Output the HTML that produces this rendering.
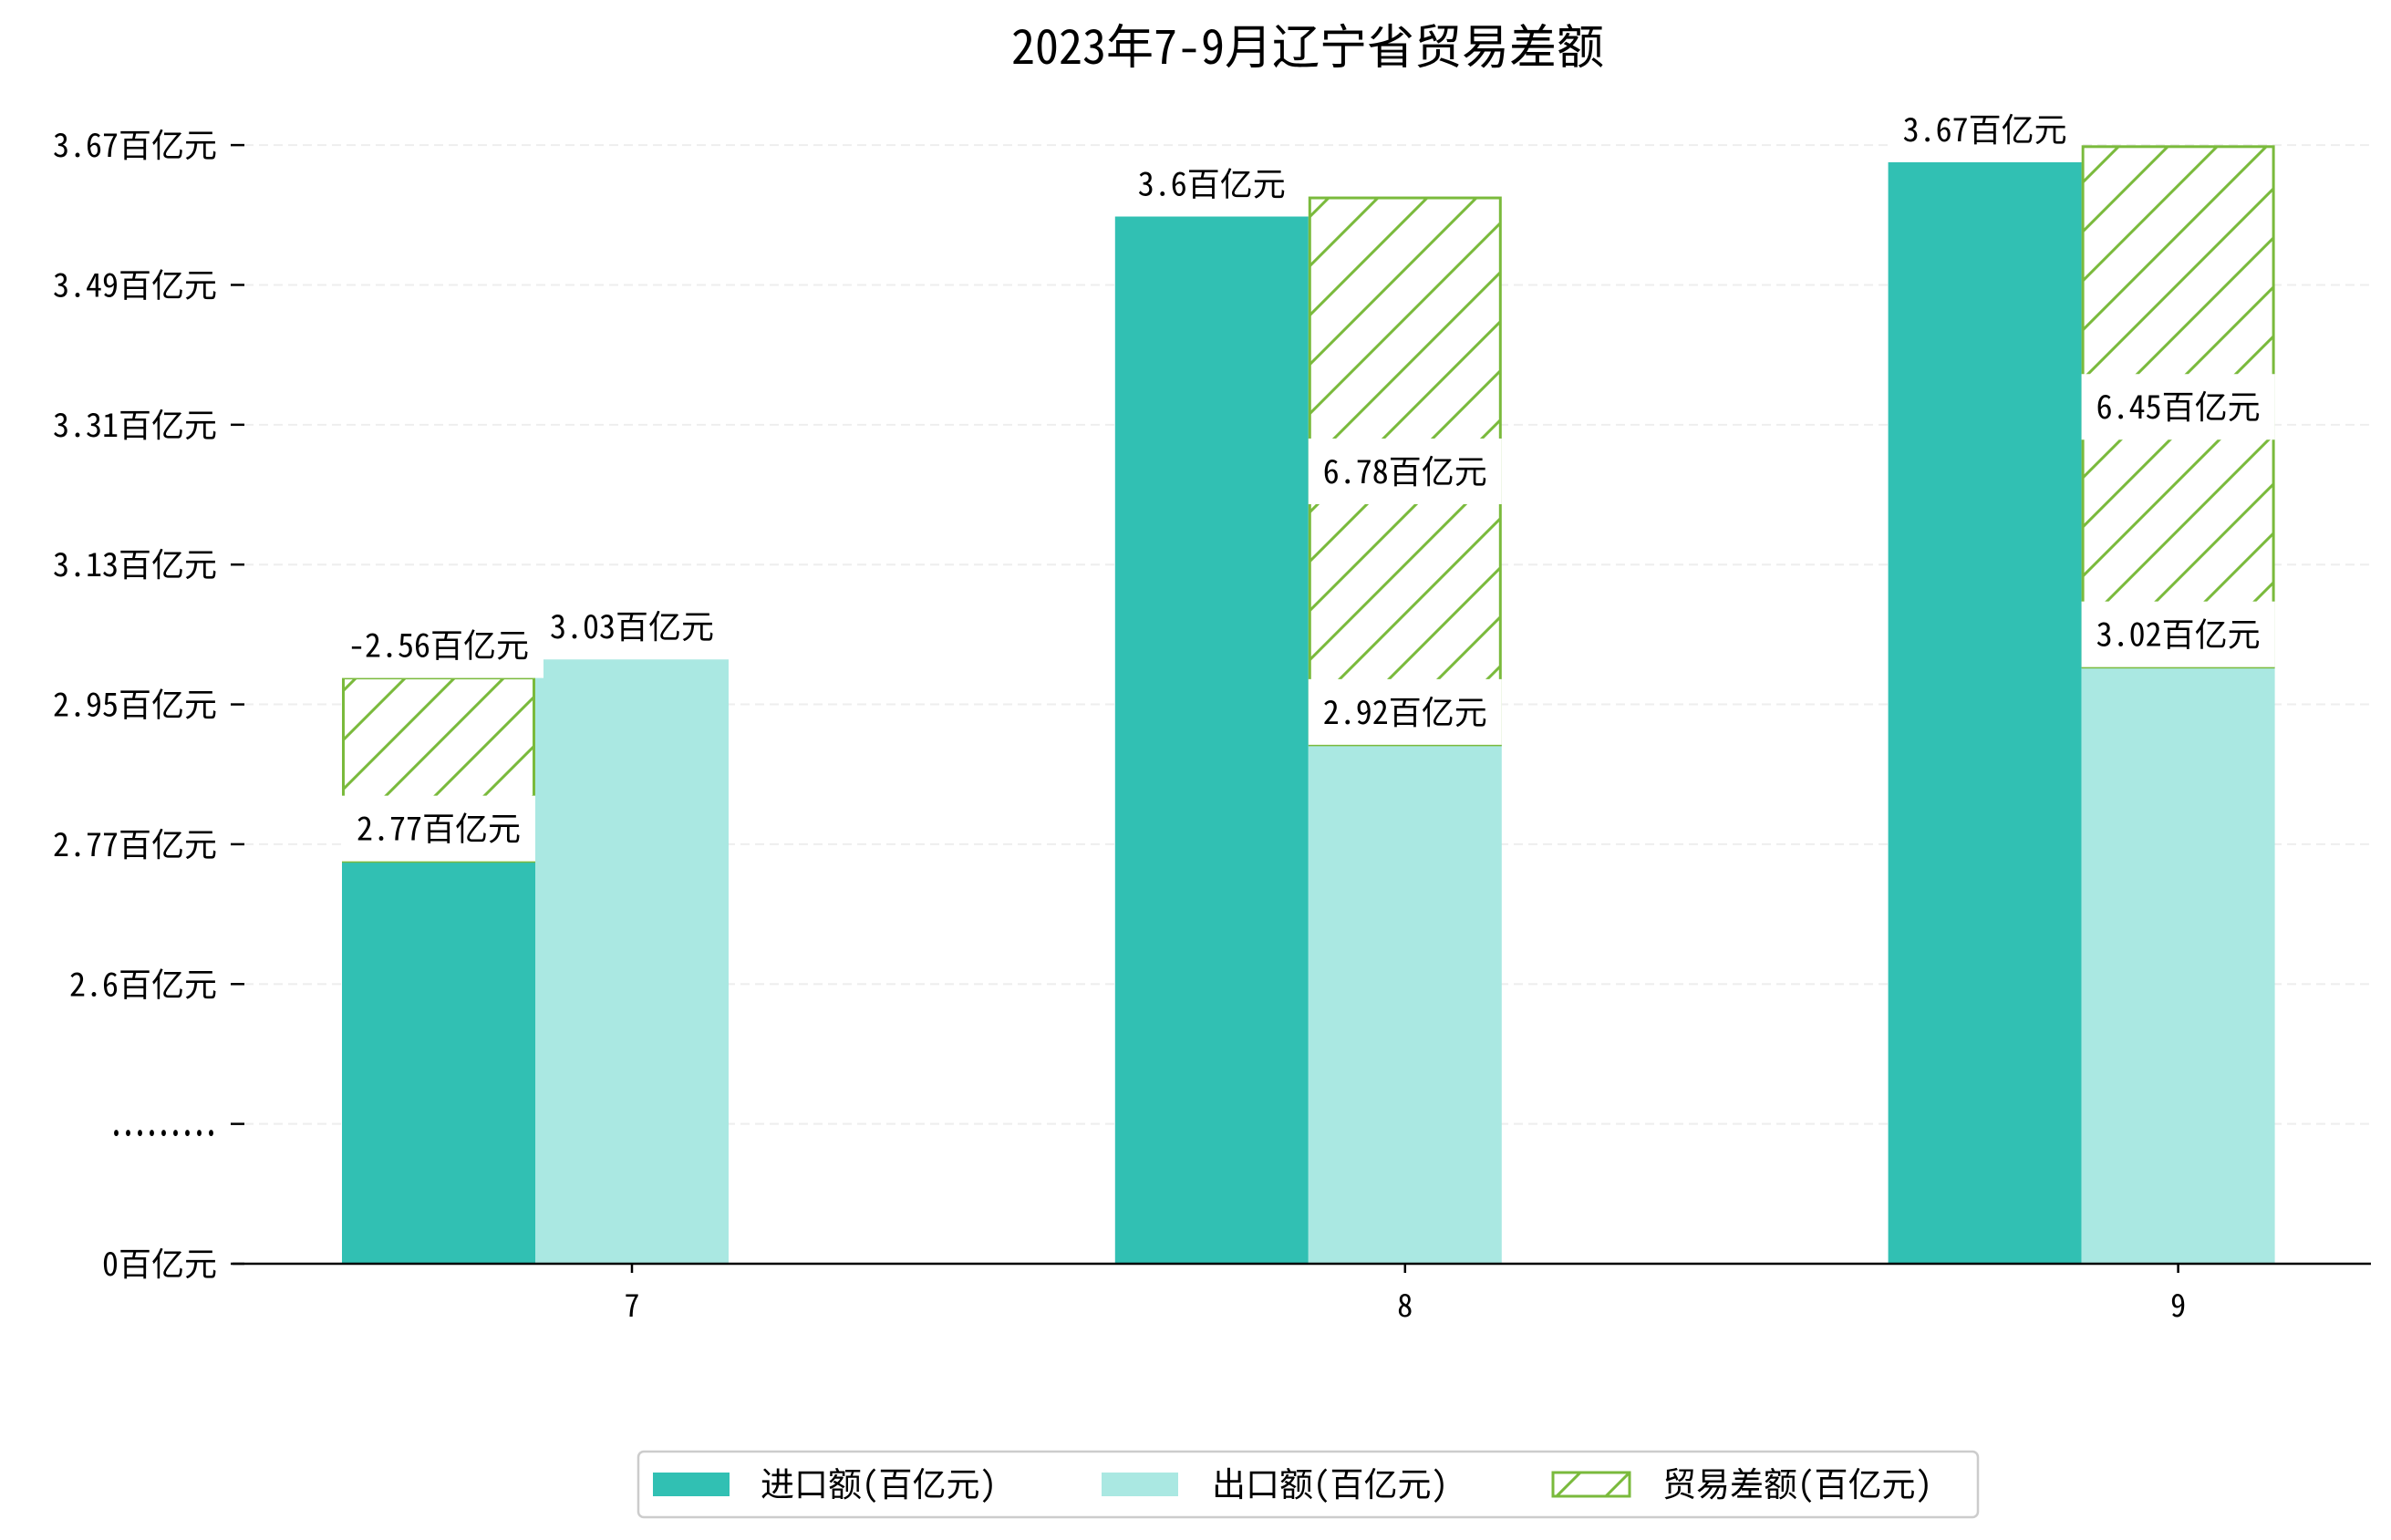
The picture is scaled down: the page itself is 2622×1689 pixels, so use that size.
<!DOCTYPE html>
<html><head><meta charset="utf-8"><style>
html,body{margin:0;padding:0;background:#fff}
svg{display:block}
text{font-family:"Noto Sans Mono CJK SC","Liberation Mono","Noto Sans CJK SC",monospace;fill:#000}
</style></head><body>
<svg id="chart" width="2622" height="1689" viewBox="0 0 2622 1689" xmlns="http://www.w3.org/2000/svg">
<defs>
<pattern id="hatch" patternUnits="userSpaceOnUse" width="54" height="54">
<rect width="54" height="54" fill="#fff"/>
<path d="M-5,59 L59,-5 M-5,5 L5,-5 M49,59 L59,49" stroke="#7aba3c" stroke-width="3"/>
</pattern>
</defs>
<text x="1434" y="70" font-size="52" text-anchor="middle">2023年7-9月辽宁省贸易差额</text>
<g id="grid"></g><g id="bars"></g><g id="axes"></g><g id="labels"></g>
<g>
<rect x="700" y="1592" width="1469" height="72" rx="6" fill="#fff" stroke="#ccc" stroke-width="2.5"/>
<rect x="716" y="1615" width="84" height="26" fill="#31c0b3"/>
<text x="834" y="1641" font-size="37">进口额(百亿元)</text>
<rect x="1208" y="1615" width="84" height="26" fill="#aae8e2"/>
<text x="1329" y="1641" font-size="37">出口额(百亿元)</text>
<rect x="1703" y="1615" width="84" height="26" fill="url(#hatch)" stroke="#7aba3c" stroke-width="3"/>
<text x="1823" y="1641" font-size="37">贸易差额(百亿元)</text>
</g>
</svg>
<script>
const categories = ["7","8","9"];
const importVals = [2.77, 3.6, 3.67];
const exportVals = [3.03, 2.92, 3.02];
const balanceLow = [2.77, 2.92, 3.02];
const balanceHigh = [3.006, 3.624, 3.69];
const balanceLabels = ["-2.56", "6.78", "6.45"];
const importLabels = ["2.77", "3.6", "3.67"];
const exportLabels = ["3.03", "2.92", "3.02"];
const tickLabels = ["0", ".........", "2.6", "2.77", "2.95", "3.13", "3.31", "3.49", "3.67"];
const tickVals = [2.252, 2.432, 2.612, 2.792, 2.972, 3.152, 3.332, 3.512, 3.692];

const NS = "http://www.w3.org/2000/svg";
const baseY = 1386, y0 = 2.252, pxPerUnit = 852;
function yScale(v){ return baseY - (v - y0) * pxPerUnit; }
function xCenter(i){ return 693 + i * 847.8; }
const barW = 212;
function mk(tag, attrs, parent){ const e = document.createElementNS(NS, tag); for (const k in attrs) e.setAttribute(k, attrs[k]); parent.appendChild(e); return e; }

const grid = document.getElementById('grid'), axes = document.getElementById('axes');
const bars = document.getElementById('bars'), labels = document.getElementById('labels');

tickVals.forEach((v, i) => {
  const y = yScale(v);
  if (i > 0) {
    const g = mk('line', {x1: 268, x2: 2600, y1: y, y2: y, stroke: '#eeeeee', 'stroke-width': 2, 'stroke-dasharray': '10,6'}, grid);
    
    
  }
  const t = mk('line', {x1: 253, x2: 268, y1: y, y2: y, stroke: '#000', 'stroke-width': 2.5}, axes);
  
  
  const lb = mk('text', {x: 238, y: y + 13, 'font-size': 36, 'text-anchor': 'end'}, axes);
  if (i === 1) { lb.setAttribute('textLength', 117); lb.setAttribute('lengthAdjust', 'spacingAndGlyphs'); lb.setAttribute('font-weight', 'bold'); }
  lb.textContent = tickLabels[i] + (i === 1 ? '' : '百亿元');
  
  
});
const xa = mk('line', {x1: 255, x2: 2600, y1: baseY, y2: baseY, stroke: '#000', 'stroke-width': 2.5}, axes);



function labelBox(txt, cx, bottom, name){
  const g = mk('g', {}, labels);
  
  
  const r = mk('rect', {fill: '#fff'}, g);
  const t = mk('text', {x: cx, y: bottom - 23, 'font-size': 36, 'text-anchor': 'middle'}, g);
  t.textContent = txt + '百亿元';
  let w = 200; try { w = t.getComputedTextLength(); } catch(e){}
  r.setAttribute('x', cx - w/2 - 16); r.setAttribute('width', w + 32);
  r.setAttribute('y', bottom - 72); r.setAttribute('height', 72);
}

function impX(i){ return xCenter(i) - 1.5 * barW; }
function expX(i){ return xCenter(i) - 0.5 * barW; }

categories.forEach((c, i) => {
  const cx = xCenter(i);
  const bi = mk('rect', {x: impX(i), y: yScale(importVals[i]), width: barW, height: baseY - yScale(importVals[i]), fill: '#31c0b3'}, bars);
  
  
  const be = mk('rect', {x: expX(i), y: yScale(exportVals[i]), width: barW, height: baseY - yScale(exportVals[i]), fill: '#aae8e2'}, bars);
  
  
  const neg = parseFloat(balanceLabels[i]) < 0;
  const bx = neg ? impX(i) : expX(i);
  const top = yScale(balanceHigh[i]), bot = yScale(balanceLow[i]);
  const bb = mk('rect', {x: bx + 1.5, y: top, width: barW - 3, height: bot - top, fill: 'url(#hatch)', stroke: '#7aba3c', 'stroke-width': 3}, bars);
  
  
  const xt = mk('line', {x1: cx, x2: cx, y1: baseY, y2: baseY + 10, stroke: '#000', 'stroke-width': 2.5}, axes);
  
  
  const xl = mk('text', {x: cx, y: 1444, 'font-size': 34, 'text-anchor': 'middle'}, axes);
  xl.textContent = c;
  
  
});
categories.forEach((c, i) => {
  labelBox(importLabels[i], impX(i) + barW/2, yScale(importVals[i]), 'import-label-' + c);
});
categories.forEach((c, i) => {
  labelBox(exportLabels[i], expX(i) + barW/2, yScale(exportVals[i]), 'export-label-' + c);
});
categories.forEach((c, i) => {
  const neg = parseFloat(balanceLabels[i]) < 0;
  const top = yScale(balanceHigh[i]), bot = yScale(balanceLow[i]);
  if (neg) labelBox(balanceLabels[i], impX(i) + barW/2, top, 'balance-label-' + c);
  else labelBox(balanceLabels[i], expX(i) + barW/2, (top + bot)/2 + 36, 'balance-label-' + c);
});
</script>
</body></html>
